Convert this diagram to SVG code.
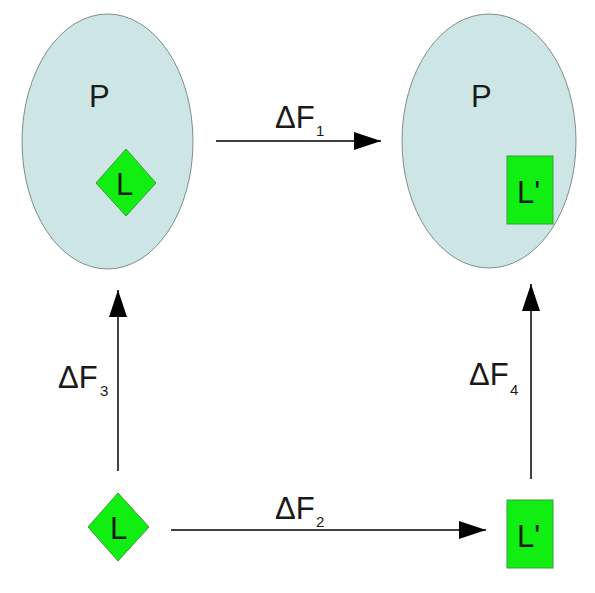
<svg xmlns="http://www.w3.org/2000/svg" width="595" height="593" viewBox="0 0 595 593">
<style>
.cell{fill:#cde6e5;stroke:#7f8c8c;stroke-width:1}
.lig{fill:#11ee11;stroke:#3c9a3c;stroke-width:1}
.t{font-family:"Liberation Sans",Arial,sans-serif;font-size:31px;fill:#1a1a1a}
.s{font-family:"Liberation Sans",Arial,sans-serif;font-size:15px;fill:#1a1a1a}
.c{stroke:#000;stroke-width:1.5;fill:none}
</style>
<defs>
<marker id="ah" viewBox="0 0 27 18" refX="27" refY="9" markerWidth="27" markerHeight="18" markerUnits="userSpaceOnUse" orient="auto">
<path d="M0,0 L27,9 L0,18 Z" fill="#000"/>
</marker>
</defs>
<rect width="595" height="593" fill="#fff"/>
<g id="complex-left">
<ellipse class="cell" cx="107.5" cy="141.5" rx="85.5" ry="127.5"/>
<text class="t" x="89" y="107">P</text>
<polygon class="lig" points="126,149 156,183 126,216 96,183"/>
<text class="t" x="116" y="195">L</text>
</g>
<g id="complex-right">
<ellipse class="cell" cx="489" cy="141" rx="87" ry="127"/>
<text class="t" x="471" y="107">P</text>
<rect class="lig" x="507" y="156" width="46" height="68"/>
<text class="t" x="517" y="203">L'</text>
</g>
<g id="ligand-left">
<polygon class="lig" points="118,493 149,527 118,561 88,527"/>
<text class="t" x="110" y="539">L</text>
</g>
<g id="ligand-right">
<rect class="lig" x="507" y="500" width="46" height="68"/>
<text class="t" x="517" y="547">L'</text>
</g>
<g id="connectors">
<line class="c" x1="216" y1="141" x2="381" y2="141" marker-end="url(#ah)"/>
<line class="c" x1="171" y1="530" x2="486" y2="530" marker-end="url(#ah)"/>
<line class="c" x1="118" y1="471" x2="118" y2="290" marker-end="url(#ah)"/>
<line class="c" x1="531" y1="479" x2="531" y2="284" marker-end="url(#ah)"/>
</g>
<g id="labels">
<text class="t" x="275" y="128">ΔF</text><text class="s" x="316" y="136">1</text>
<text class="t" x="275" y="519">ΔF</text><text class="s" x="316" y="527">2</text>
<text class="t" x="58" y="388">ΔF</text><text class="s" x="100" y="396">3</text>
<text class="t" x="469" y="385">ΔF</text><text class="s" x="510" y="395">4</text>
</g>
</svg>
